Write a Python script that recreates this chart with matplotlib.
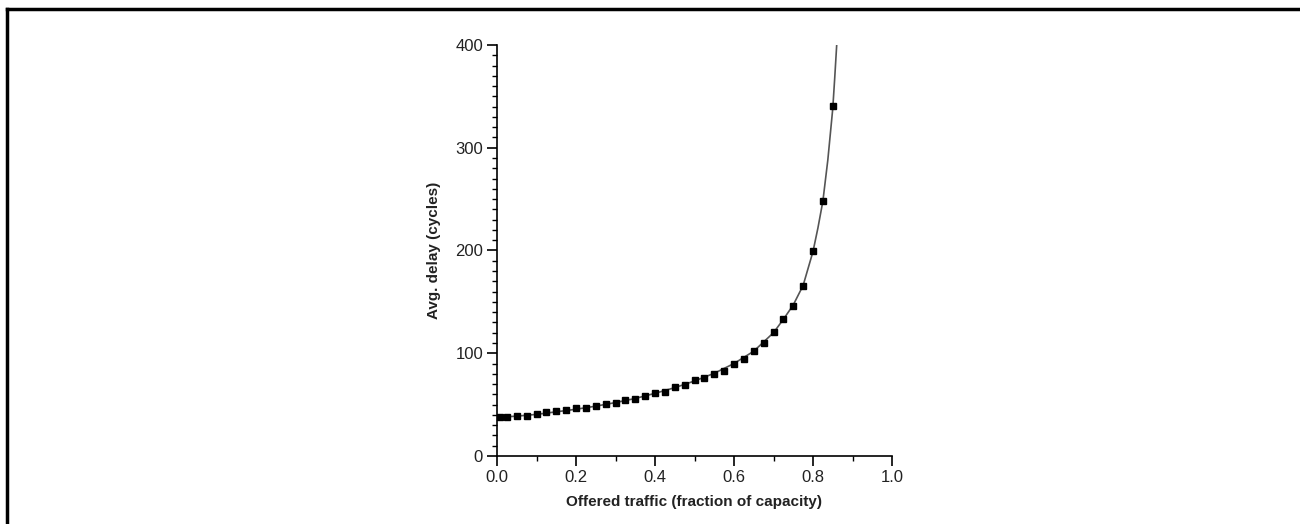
import matplotlib
matplotlib.use("Agg")
import matplotlib.pyplot as plt
from matplotlib.ticker import MultipleLocator
from matplotlib.lines import Line2D

plt.rcParams['font.family'] = ['Liberation Sans', 'DejaVu Sans']

# Marker data (offered traffic, avg delay)
traffic = [0.008, 0.025, 0.05, 0.075, 0.1, 0.125, 0.15, 0.175, 0.2, 0.225,
           0.25, 0.275, 0.3, 0.325, 0.35, 0.375, 0.4, 0.425, 0.45, 0.475,
           0.5, 0.525, 0.55, 0.575, 0.6, 0.625, 0.65, 0.675, 0.7,
           0.725, 0.75, 0.775, 0.8, 0.825, 0.85]
delay = [38.4, 38.1, 39.4, 39.4, 40.7, 42.6, 43.9, 45.2, 46.5, 46.5,
         48.7, 50.3, 52.0, 54.5, 55.8, 58.4, 61.6, 62.3, 66.7, 69.3,
         73.7, 76.0, 80.2, 82.7, 89.1, 94.0, 102.0, 110.0, 120.5,
         133.0, 146.4, 165.4, 199.3, 248.4, 341.0]

# Curve (thin line) through the same region, ending at the top
curve_x = [0.0, 0.05, 0.1, 0.15, 0.2, 0.25, 0.3, 0.35, 0.4, 0.45, 0.5,
           0.55, 0.6, 0.65, 0.7, 0.725, 0.75, 0.775, 0.8, 0.8125, 0.825,
           0.8375, 0.85, 0.855, 0.86]
curve_y = [37.5, 38.8, 40.5, 43.0, 45.5, 48.5, 52.0, 56.0, 61.0, 66.5, 73.0,
           80.5, 90.0, 102.0, 120.0, 133.0, 147.0, 166.0, 199.0, 222.0, 248.0,
           288.0, 338.0, 368.0, 400.0]

x_ticks = [0.0, 0.2, 0.4, 0.6, 0.8, 1.0]
y_ticks = [0, 100, 200, 300, 400]

fig = plt.figure(figsize=(13, 5.24), dpi=100)
ax = fig.add_axes([497/1300, (524-456)/524, 395/1300, 411/524])

ax.plot(curve_x, curve_y, color='#555555', linewidth=1.2, zorder=2)
ax.plot(traffic, delay, linestyle='none', marker='s', markersize=4.2,
        color='black', zorder=3)

ax.set_xlim(0, 1.0)
ax.set_ylim(0, 400)
ax.set_xticks(x_ticks)
ax.set_xticklabels([f"{t:.1f}" for t in x_ticks])
ax.set_yticks(y_ticks)
ax.xaxis.set_minor_locator(MultipleLocator(0.1))
ax.yaxis.set_minor_locator(MultipleLocator(10))

for s in ['top', 'right']:
    ax.spines[s].set_visible(False)
for s in ['left', 'bottom']:
    ax.spines[s].set_linewidth(1.2)

ax.tick_params(which='major', direction='out', length=7, width=1.2,
               labelsize=12, labelcolor='#222222', pad=3)
ax.tick_params(which='minor', direction='out', length=3.5, width=1.0)

ax.set_xlabel('Offered traffic (fraction of capacity)', fontsize=11,
              fontweight='bold', labelpad=7, color='#222222')
ax.set_ylabel('Avg. delay (cycles)', fontsize=11, fontweight='bold',
              labelpad=10, color='#222222')

# outer frame (left and top edges)
fig.add_artist(Line2D([7/1300, 7/1300], [0, 1 - 9/524], transform=fig.transFigure,
                      color='black', linewidth=2.5))
fig.add_artist(Line2D([7/1300, 1], [1 - 9/524, 1 - 9/524], transform=fig.transFigure,
                      color='black', linewidth=2.5))

fig.savefig('out.png', dpi=100)
